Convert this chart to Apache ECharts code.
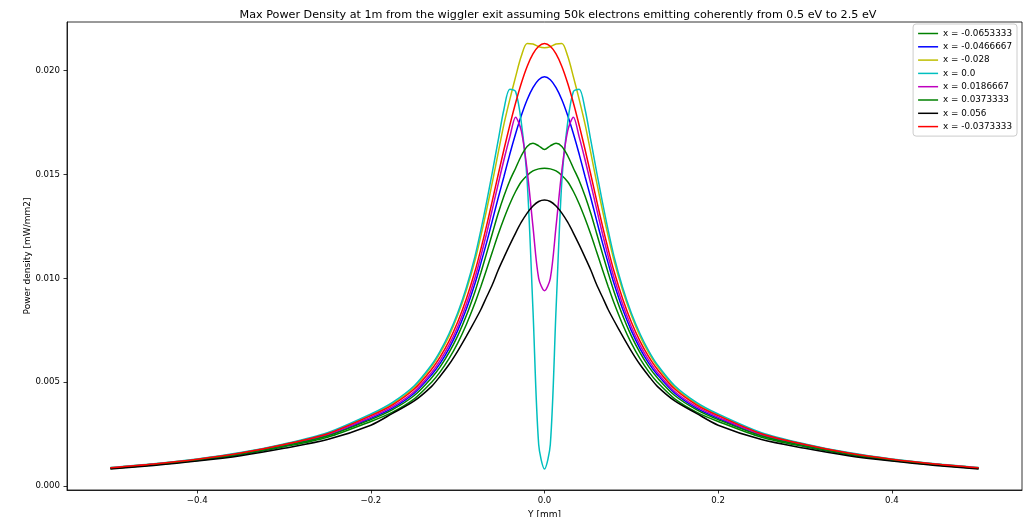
<!DOCTYPE html>
<html>
<head>
<meta charset="utf-8">
<title>Max Power Density</title>
<script src="https://cdn.jsdelivr.net/npm/echarts@6/dist/echarts.min.js"></script>
<style>
html, body { margin: 0; padding: 0; background: #fff; }
#main { width: 1023px; height: 517px; }
</style>
</head>
<body>
<div id="main"></div>
<script>
// Y positions [mm]
var yPos = [-0.5, -0.45, -0.4, -0.35, -0.3, -0.25, -0.2, -0.175, -0.15, -0.13, -0.12, -0.11, -0.1, -0.09, -0.08, -0.0733, -0.0667, -0.06, -0.0533, -0.0467, -0.04, -0.0333, -0.0267, -0.02, -0.0133, -0.0067,
	0,
	0.0067, 0.0133, 0.02, 0.0267, 0.0333, 0.04, 0.0467, 0.0533, 0.06, 0.0667, 0.0733, 0.08, 0.09, 0.1, 0.11, 0.12, 0.13, 0.15, 0.175, 0.2, 0.25, 0.3, 0.35, 0.4, 0.45, 0.5];

var xTicks = [-0.4, -0.2, 0.0, 0.2, 0.4];
var yTicks = [0.000, 0.005, 0.010, 0.015, 0.020];

var names = ['x = -0.0653333', 'x = -0.0466667', 'x = -0.028', 'x = 0.0', 'x = 0.0186667', 'x = 0.0373333', 'x = 0.056', 'x = -0.0373333'];
var colors = ['#008000', '#0000ff', '#bfbf00', '#00bfbf', '#bf00bf', '#008000', '#000000', '#ff0000'];

// power density [mW/mm2], one list per x
var pdM0653 = [0.00085, 0.00102, 0.00123, 0.00151, 0.00189, 0.00235, 0.00311, 0.00356, 0.0042, 0.005, 0.00551, 0.00613, 0.00688, 0.00778, 0.00882, 0.00961, 0.01043, 0.01128, 0.01212, 0.01288, 0.01358, 0.01418, 0.01465, 0.01495, 0.01517, 0.01527,
	0.0153,
	0.01527, 0.01517, 0.01495, 0.01465, 0.01418, 0.01358, 0.01288, 0.01212, 0.01128, 0.01043, 0.00961, 0.00882, 0.00778, 0.00688, 0.00613, 0.00551, 0.005, 0.0042, 0.00356, 0.00311, 0.00235, 0.00189, 0.00151, 0.00123, 0.00102, 0.00085];
var pdM0467 = [0.00086, 0.00104, 0.00126, 0.00155, 0.00194, 0.00244, 0.00326, 0.00375, 0.00447, 0.00536, 0.00592, 0.00662, 0.00748, 0.00852, 0.00976, 0.01073, 0.01172, 0.01279, 0.01388, 0.0149, 0.01597, 0.01696, 0.01784, 0.0186, 0.01918, 0.01956,
	0.0197,
	0.01956, 0.01918, 0.0186, 0.01784, 0.01696, 0.01597, 0.0149, 0.01388, 0.01279, 0.01172, 0.01073, 0.00976, 0.00852, 0.00748, 0.00662, 0.00592, 0.00536, 0.00447, 0.00375, 0.00326, 0.00244, 0.00194, 0.00155, 0.00126, 0.00104, 0.00086];
var pdM0280 = [0.00088, 0.00106, 0.00129, 0.00159, 0.002, 0.00253, 0.00342, 0.00397, 0.00476, 0.00576, 0.00642, 0.00722, 0.00822, 0.00943, 0.01087, 0.01204, 0.01329, 0.01464, 0.01605, 0.01742, 0.0186, 0.0197, 0.0207, 0.0213, 0.02128, 0.02115,
	0.0211,
	0.02115, 0.02128, 0.0213, 0.0207, 0.0197, 0.0186, 0.01742, 0.01605, 0.01464, 0.01329, 0.01204, 0.01087, 0.00943, 0.00822, 0.00722, 0.00642, 0.00576, 0.00476, 0.00397, 0.00342, 0.00253, 0.002, 0.00159, 0.00129, 0.00106, 0.00088];
var pdZero = [0.00089, 0.00107, 0.0013, 0.00161, 0.00203, 0.00257, 0.00347, 0.00403, 0.00483, 0.00584, 0.00651, 0.00733, 0.00833, 0.00956, 0.01107, 0.01232, 0.01367, 0.01513, 0.01665, 0.01814, 0.0191, 0.0190, 0.0175, 0.0147, 0.0085, 0.0020,
	0.00082,
	0.0020, 0.0085, 0.0147, 0.0175, 0.0190, 0.0191, 0.01814, 0.01665, 0.01513, 0.01367, 0.01232, 0.01107, 0.00956, 0.00833, 0.00733, 0.00651, 0.00584, 0.00483, 0.00403, 0.00347, 0.00257, 0.00203, 0.00161, 0.0013, 0.00107, 0.00089];
var pdP0187 = [0.00087, 0.00105, 0.00127, 0.00157, 0.00196, 0.00247, 0.00332, 0.00382, 0.00455, 0.00547, 0.00606, 0.00678, 0.00767, 0.00875, 0.01004, 0.01107, 0.01216, 0.01334, 0.01455, 0.01571, 0.0168, 0.01776, 0.0171, 0.0152, 0.0125, 0.0100,
	0.0094,
	0.0100, 0.0125, 0.0152, 0.0171, 0.01776, 0.0168, 0.01571, 0.01455, 0.01334, 0.01216, 0.01107, 0.01004, 0.00875, 0.00767, 0.00678, 0.00606, 0.00547, 0.00455, 0.00382, 0.00332, 0.00247, 0.00196, 0.00157, 0.00127, 0.00105, 0.00087];
var pdP0373 = [0.00086, 0.00103, 0.00125, 0.00154, 0.00193, 0.00241, 0.0032, 0.00368, 0.00436, 0.00521, 0.00575, 0.00642, 0.00723, 0.00821, 0.00937, 0.01027, 0.0112, 0.01217, 0.01313, 0.01396, 0.0147, 0.0153, 0.0159, 0.01635, 0.0165, 0.01638,
	0.0162,
	0.01638, 0.0165, 0.01635, 0.0159, 0.0153, 0.0147, 0.01396, 0.01313, 0.01217, 0.0112, 0.01027, 0.00937, 0.00821, 0.00723, 0.00642, 0.00575, 0.00521, 0.00436, 0.00368, 0.0032, 0.00241, 0.00193, 0.00154, 0.00125, 0.00103, 0.00086];
var pdP0560 = [0.00082, 0.00099, 0.0012, 0.00146, 0.00182, 0.00224, 0.00293, 0.0035, 0.0041, 0.0048, 0.0053, 0.00585, 0.0065, 0.00722, 0.00797, 0.0085, 0.0091, 0.0097, 0.0104, 0.01101, 0.01161, 0.01218, 0.0127, 0.01314, 0.01348, 0.0137,
	0.01377,
	0.0137, 0.01348, 0.01314, 0.0127, 0.01218, 0.01161, 0.01101, 0.0104, 0.0097, 0.0091, 0.0085, 0.00797, 0.00722, 0.0065, 0.00585, 0.0053, 0.0048, 0.0041, 0.0035, 0.00293, 0.00224, 0.00182, 0.00146, 0.0012, 0.00099, 0.00082];
var pdM0373 = [0.00088, 0.00106, 0.00129, 0.00159, 0.002, 0.00252, 0.00339, 0.00391, 0.00467, 0.00562, 0.00623, 0.00698, 0.0079, 0.00902, 0.01035, 0.01141, 0.01254, 0.01375, 0.0150, 0.0162, 0.01736, 0.01844, 0.01939, 0.0202, 0.0208, 0.02117,
	0.0213,
	0.02117, 0.0208, 0.0202, 0.01939, 0.01844, 0.01736, 0.0162, 0.0150, 0.01375, 0.01254, 0.01141, 0.01035, 0.00902, 0.0079, 0.00698, 0.00623, 0.00562, 0.00467, 0.00391, 0.00339, 0.00252, 0.002, 0.00159, 0.00129, 0.00106, 0.00088];

var seriesValues = [pdM0653, pdM0467, pdM0280, pdZero, pdP0187, pdP0373, pdP0560, pdM0373];

var FONT = 'DejaVu Sans';

function pairs(values) {
	var out = [];
	for (var i = 0; i < yPos.length; i++) {
		out.push([yPos[i], values[i]]);
	}
	return out;
}

// matplotlib prints a real minus sign
function minusSign(text) {
	return String(text).replace('-', '\u2212');
}

var series = [];
for (var i = 0; i < names.length; i++) {
	series.push({
		name: names[i],
		type: 'line',
		data: pairs(seriesValues[i]),
		symbol: 'none',
		smooth: 0.3,
		lineStyle: { color: colors[i], width: 1.5 },
		itemStyle: { color: colors[i] },
		z: 2 + i
	});
}

var myChart = echarts.init(document.getElementById('main'));
var option = {
	animation: false,
	backgroundColor: '#fff',
	textStyle: { fontFamily: FONT },
	title: {
		text: 'Max Power Density at 1m from the wiggler exit assuming 50k electrons emitting coherently from 0.5 eV to 2.5 eV',
		left: 553, top: 5, textAlign: 'center',
		textStyle: { fontFamily: FONT, fontSize: 11.2, fontWeight: 'normal', color: '#000' }
	},
	legend: {
		orient: 'vertical',
		right: 6, top: 24,
		data: names,
		icon: 'path://M0,0 L20,0 L20,1.5 L0,1.5 Z',
		itemWidth: 20, itemHeight: 10, itemGap: 4.3,
		padding: [5, 5, 5, 5],
		borderColor: '#cccccc', borderWidth: 1, borderRadius: 3,
		backgroundColor: 'rgba(255,255,255,0.8)',
		textStyle: { fontFamily: FONT, fontSize: 8.8, color: '#000' }
	},
	grid: {
		left: 67, right: 1, top: 22, bottom: 27,
		outerBoundsMode: 'none',
		show: true, borderColor: '#000', borderWidth: 0.8, backgroundColor: '#fff'
	},
	xAxis: {
		type: 'value',
		min: -0.55, max: 0.55,
		name: 'Y [mm]', nameLocation: 'middle', nameGap: 20, nameMoveOverlap: false,
		nameTextStyle: { fontFamily: FONT, fontSize: 9, color: '#000' },
		axisLine: { show: true, onZero: false, lineStyle: { color: '#000', width: 0.8 } },
		axisTick: { show: true, length: 3.5, lineStyle: { color: '#000', width: 0.8 }, customValues: xTicks },
		axisLabel: {
			customValues: xTicks, margin: 6,
			fontFamily: FONT, fontSize: 8.6, color: '#000',
			formatter: function (v) { return minusSign(v.toFixed(1)); }
		},
		splitLine: { show: false }
	},
	yAxis: {
		type: 'value',
		min: -0.00019, max: 0.02234,
		name: 'Power density [mW/mm2]', nameLocation: 'middle', nameGap: 35, nameRotate: 90, nameMoveOverlap: false,
		nameTextStyle: { fontFamily: FONT, fontSize: 9, color: '#000' },
		axisLine: { show: true, onZero: false, lineStyle: { color: '#000', width: 0.8 } },
		axisTick: { show: true, length: 3.5, lineStyle: { color: '#000', width: 0.8 }, customValues: yTicks },
		axisLabel: {
			customValues: yTicks, margin: 7,
			fontFamily: FONT, fontSize: 8.6, color: '#000',
			formatter: function (v) { return v.toFixed(3); }
		},
		splitLine: { show: false }
	},
	series: series
};
myChart.setOption(option);
</script>
</body>
</html>
